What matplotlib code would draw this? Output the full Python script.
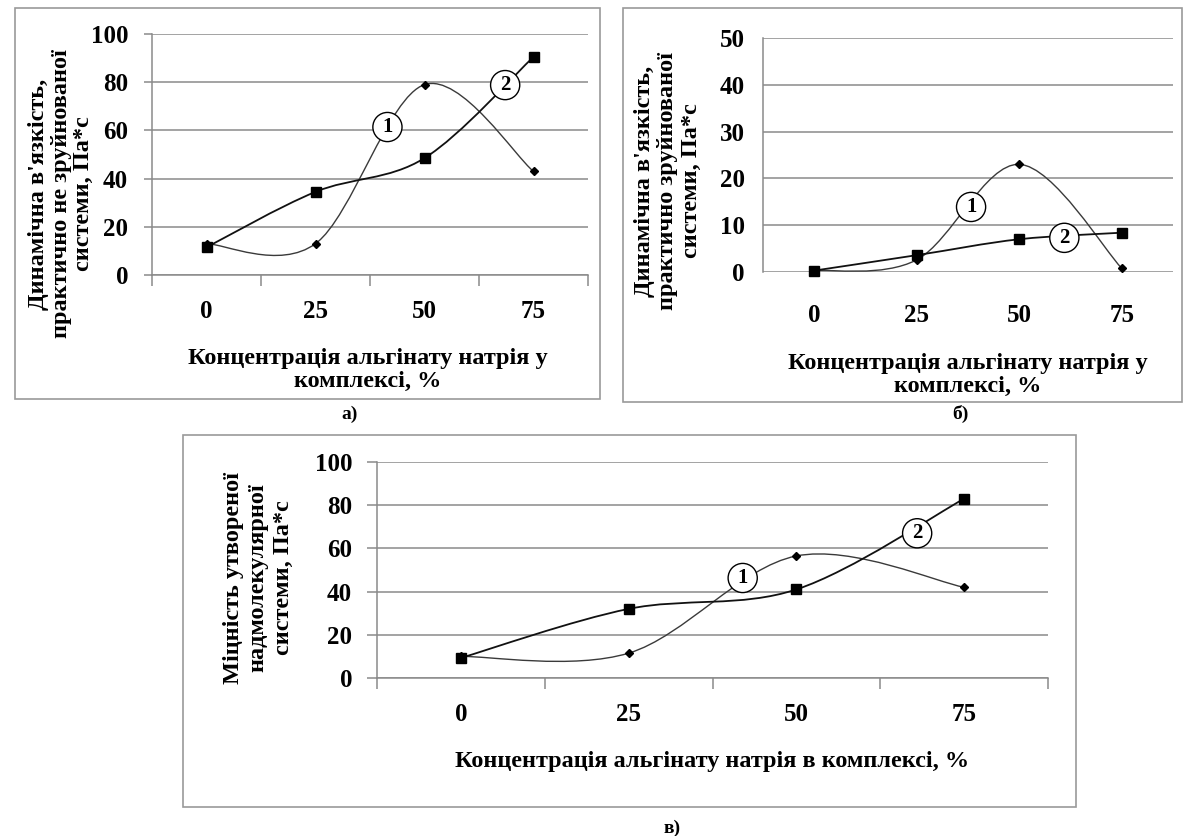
import matplotlib
matplotlib.use('Agg')
import matplotlib.pyplot as plt
from matplotlib.path import Path
from matplotlib.patches import PathPatch, Rectangle

# Data (x is a category axis)
categories = ['0', '25', '50', '75']

a_curve1 = [13, 13, 79, 43]
a_curve2 = [11.5, 34.5, 48.5, 90.5]

b_curve1 = [0.3, 2.6, 23, 0.8]
b_curve2 = [0.3, 3.6, 7.0, 8.4]

v_curve1 = [10, 11.5, 56.5, 42]
v_curve2 = [9.3, 32, 41, 83]

a_ylabel = "Динамічна в'язкість,\nпрактично не зруйнованої\nсистеми, Па*с"
b_ylabel = "Динамічна в'язкість,\nпрактично зруйнованої\nсистеми, Па*с"
v_ylabel = "Міцність утвореної\nнадмолекулярної\nсистеми, Па*с"
ab_xlabel = "Концентрація альгінату натрія у\nкомплексі, %"
v_xlabel = "Концентрація альгінату натрія в комплексі, %"

W, H = 1185, 836
plt.rcParams['font.family'] = ['Liberation Serif', 'DejaVu Serif']
plt.rcParams['font.weight'] = 'bold'

fig = plt.figure(figsize=(W / 100, H / 100), dpi=100)
fig.patch.set_facecolor('white')

GRID = '#8a8a8a'
FRAME = '#9a9a9a'
TICK_FS = 18
LABEL_FS = 17.5


def fx(x):
    return x / W


def fy(y):
    return 1 - y / H


def frame(x0, y0, x1, y1):
    fig.add_artist(Rectangle((fx(x0), fy(y1)), fx(x1) - fx(x0), fy(y0) - fy(y1),
                             transform=fig.transFigure, fill=False, ec=FRAME, lw=1.2))


def smooth_path(xs, ys):
    # Excel-like smoothed line: bezier segments through the data points
    pts = list(zip(xs, ys))
    verts = [pts[0]]
    codes = [Path.MOVETO]
    for i in range(len(pts) - 1):
        p0 = pts[i - 1] if i > 0 else pts[i]
        p1 = pts[i]
        p2 = pts[i + 1]
        p3 = pts[i + 2] if i + 2 < len(pts) else pts[i + 1]
        c1 = (p1[0] + (p2[0] - p0[0]) / 6, p1[1] + (p2[1] - p0[1]) / 6)
        c2 = (p2[0] - (p3[0] - p1[0]) / 6, p2[1] - (p3[1] - p1[1]) / 6)
        verts += [c1, c2, p2]
        codes += [Path.CURVE4] * 3
    return Path(verts, codes)


def panel(box, ymax, ystep, s1, s2, labels, xticks_marks, ytick_len, xpad):
    x0, y0, x1, y1 = box
    ax = fig.add_axes([fx(x0), fy(y1), fx(x1) - fx(x0), fy(y0) - fy(y1)])
    xs = list(range(len(categories)))
    ax.set_xlim(-0.5, len(categories) - 0.5)
    ax.set_ylim(0, ymax)
    ax.set_yticks(range(0, ymax + 1, ystep))
    ax.yaxis.grid(True, color=GRID, lw=1.1)
    ax.set_axisbelow(True)
    for sp in ['top', 'right', 'bottom']:
        ax.spines[sp].set_visible(False)
    ax.spines['left'].set_color(GRID)
    ax.spines['left'].set_linewidth(1.1)
    ax.tick_params(axis='y', length=ytick_len, color=GRID, width=1.1,
                   labelsize=TICK_FS, pad=13 - ytick_len * 0.3)

    # category boundaries carry the tick marks, labels sit at the centres
    ax.set_xticks([i - 0.5 for i in range(len(categories) + 1)])
    ax.set_xticklabels([])
    ax.set_xticks(xs, minor=True)
    ax.set_xticklabels(categories, minor=True)
    ax.tick_params(axis='x', which='major', length=8 if xticks_marks else 0,
                   color=GRID, width=1.1)
    ax.tick_params(axis='x', which='minor', length=0, labelsize=TICK_FS, pad=xpad)
    if xticks_marks:
        ax.spines['bottom'].set_visible(True)
        ax.spines['bottom'].set_color(GRID)
        ax.spines['bottom'].set_linewidth(1.1)

    ax.add_patch(PathPatch(smooth_path(xs, s1), fill=False, ec='#3a3a3a', lw=1.0,
                           clip_on=False, zorder=3))
    ax.add_patch(PathPatch(smooth_path(xs, s2), fill=False, ec='#111111', lw=1.3,
                           clip_on=False, zorder=3))
    ax.plot(xs, s1, ls='none', marker='D', ms=4.5, color='black', zorder=4,
            clip_on=False)
    ax.plot(xs, s2, ls='none', marker='s', ms=6.5, color='black', zorder=5,
            clip_on=False)
    for txt, (lx, ly) in labels:
        ax.text(lx, ly, txt, ha='center', va='center', fontsize=15, zorder=6,
                bbox=dict(boxstyle='circle,pad=0.22', fc='white', ec='black', lw=1.0))
    return ax


# а)
frame(15, 8, 600, 399)
panel((152, 34, 588, 275), 100, 20, a_curve1, a_curve2,
      [('1', (1.66, 61.4)), ('2', (2.74, 78.8))], True, 6, 18)
fig.text(fx(61), fy(194), a_ylabel, rotation=90, ha='center', va='center',
         fontsize=LABEL_FS, linespacing=1.12, multialignment='center')
fig.text(fx(368), fy(370), ab_xlabel, ha='center', va='center', fontsize=LABEL_FS,
         linespacing=1.15)
fig.text(fx(350), fy(414), 'а)', ha='center', va='center', fontsize=14)

# б)
frame(623, 8, 1182, 402)
panel((763, 38, 1173, 272), 50, 10, b_curve1, b_curve2,
      [('1', (1.53, 13.9)), ('2', (2.44, 7.3))], False, 0, 23)
fig.text(fx(668), fy(181), b_ylabel, rotation=90, ha='center', va='center',
         fontsize=LABEL_FS, linespacing=1.15, multialignment='center')
fig.text(fx(968), fy(375), ab_xlabel, ha='center', va='center', fontsize=LABEL_FS,
         linespacing=1.15)
fig.text(fx(960), fy(414), 'б)', ha='center', va='center', fontsize=14)

# в)
frame(183, 435, 1076, 807)
panel((377, 462, 1048, 678), 100, 20, v_curve1, v_curve2,
      [('1', (1.68, 46.3)), ('2', (2.72, 67))], True, 7, 18)
fig.text(fx(258), fy(578), v_ylabel, rotation=90, ha='center', va='center',
         fontsize=LABEL_FS, linespacing=1.25, multialignment='center')
fig.text(fx(712), fy(762), v_xlabel, ha='center', va='center', fontsize=LABEL_FS)
fig.text(fx(672), fy(828), 'в)', ha='center', va='center', fontsize=14)

fig.savefig('out.png', dpi=100, facecolor='white')
